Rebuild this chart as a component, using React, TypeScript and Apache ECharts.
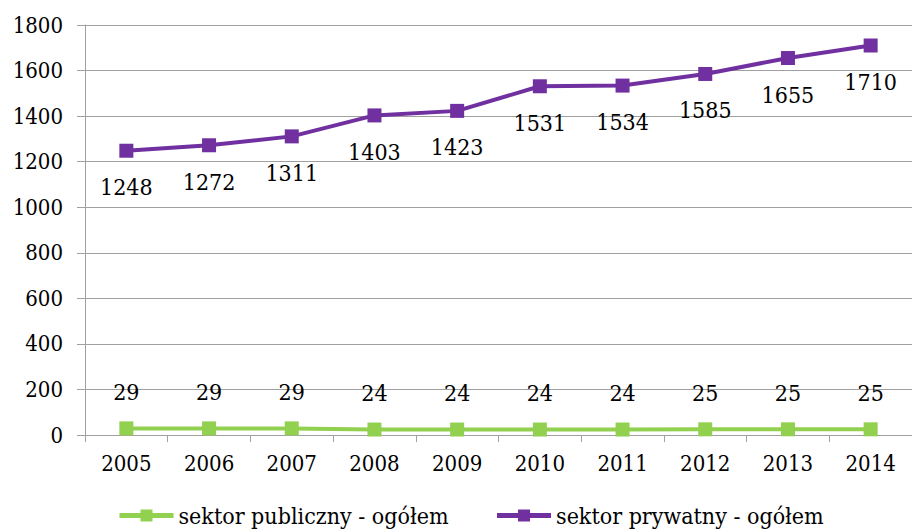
import React, { useEffect, useRef } from "react";
import * as echarts from "echarts";

const years = ["2005", "2006", "2007", "2008", "2009", "2010", "2011", "2012", "2013", "2014"];
const publicSector = [29, 29, 29, 24, 24, 24, 24, 25, 25, 25];
const privateSector = [1248, 1272, 1311, 1403, 1423, 1531, 1534, 1585, 1655, 1710];
const seriesNames = ["sektor publiczny - ogółem", "sektor prywatny - ogółem"];

const FONT = "DejaVu Serif Condensed, DejaVu Serif, serif";

export default function App() {
  const ref = useRef<HTMLDivElement>(null);
  useEffect(() => {
    if (!ref.current) return;
    const chart = echarts.init(ref.current, null, { renderer: "svg" });
    chart.setOption({
      animation: false,
      backgroundColor: "#ffffff",
      textStyle: { fontFamily: FONT, color: "#000" },
      grid: { left: 85, right: -8, top: 25, bottom: 97, containLabel: false },
      legend: {
        left: 112,
        top: 499,
        itemWidth: 54,
        itemHeight: 15,
        itemGap: 46,
        lineStyle: { width: 5 },
        textStyle: { fontFamily: FONT, fontSize: 23, color: "#000" },
        data: seriesNames,
      },
      xAxis: {
        type: "category",
        data: years,
        boundaryGap: true,
        axisLine: { lineStyle: { color: "#a0a0a0", width: 1 } },
        axisTick: { show: true, length: 7, lineStyle: { color: "#a0a0a0" } },
        axisLabel: { fontFamily: FONT, fontSize: 22, color: "#000", margin: 17 },
      },
      yAxis: {
        type: "value",
        min: 0,
        max: 1800,
        interval: 200,
        axisLine: { show: true, lineStyle: { color: "#a0a0a0", width: 1 } },
        axisTick: { show: true, length: 8, lineStyle: { color: "#a0a0a0" } },
        splitLine: { lineStyle: { color: "#a0a0a0", width: 1 } },
        axisLabel: {
          fontFamily: FONT,
          fontSize: 22,
          color: "#000",
          margin: 22,
          formatter: (v: number) => String(v),
        },
      },
      series: [
        {
          name: seriesNames[0],
          type: "line",
          data: publicSector,
          symbol: "rect",
          symbolSize: 14,
          lineStyle: { color: "#92D050", width: 4 },
          itemStyle: { color: "#92D050" },
          label: {
            show: true,
            position: "top",
            distance: 18,
            fontFamily: FONT,
            fontSize: 23,
            color: "#000",
          },
        },
        {
          name: seriesNames[1],
          type: "line",
          data: privateSector,
          symbol: "rect",
          symbolSize: 14,
          lineStyle: { color: "#7030A0", width: 4 },
          itemStyle: { color: "#7030A0" },
          label: {
            show: true,
            position: "bottom",
            distance: 18,
            fontFamily: FONT,
            fontSize: 23,
            color: "#000",
          },
        },
      ],
    });
    return () => chart.dispose();
  }, []);
  return (
    <div
      ref={ref}
      style={{ position: "absolute", left: 0, top: 0, width: 912, height: 532, overflow: "hidden" }}
    />
  );
}
